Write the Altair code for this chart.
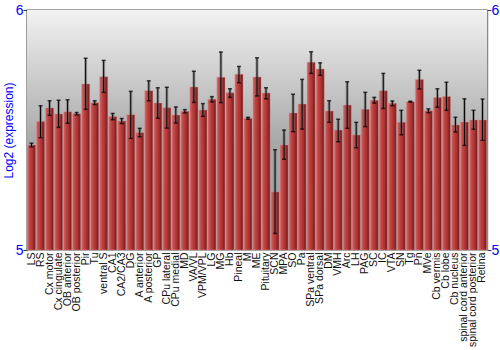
import altair as alt
import pandas as pd

regions = ["LS", "RS", "Cx motor", "Cx cingulate", "OB anterior", "OB posterior", "Pir", "Tu",
           "ventral S", "CA1", "CA2/CA3", "DG", "A anterior", "A posterior", "GP", "CPu lateral",
           "CPu medial", "MD", "VA/VL", "VPM/VPL", "LG", "MG", "Hb", "Pineal", "M", "ME",
           "Pituitary", "SCN", "MPA", "SO", "Pa", "SPa ventral", "SPa dorsal", "DM", "VMH", "Arc",
           "LH", "PAG", "SC", "IC", "VTA", "SN", "Tg", "Pn", "MVe", "Cb vermis", "Cb lobe",
           "Cb nucleus", "spinal cord anterior", "spinal cord posterior", "Retina"]
values = [5.4375, 5.535, 5.592, 5.567, 5.576, 5.568, 5.692, 5.614,
          5.722, 5.556, 5.5375, 5.564, 5.489, 5.664, 5.6125, 5.593,
          5.5625, 5.578, 5.679, 5.583, 5.628, 5.72, 5.655, 5.732, 5.549, 5.721,
          5.654, 5.242, 5.4375, 5.571, 5.608, 5.782, 5.754, 5.579, 5.5, 5.604,
          5.479, 5.586, 5.624, 5.664, 5.611, 5.532, 5.618, 5.71, 5.58, 5.635, 5.64,
          5.521, 5.533, 5.542, 5.542]
err_low = [5.43, 5.468, 5.561, 5.511, 5.528, 5.563, 5.586, 5.606,
           5.657, 5.543, 5.527, 5.465, 5.472, 5.622, 5.549, 5.508,
           5.529, 5.571, 5.615, 5.557, 5.617, 5.614, 5.636, 5.697, 5.545, 5.642,
           5.63, 5.069, 5.378, 5.493, 5.504, 5.736, 5.728, 5.532, 5.451, 5.507,
           5.426, 5.514, 5.612, 5.59, 5.601, 5.48, 5.616, 5.671, 5.572, 5.595, 5.582,
           5.492, 5.436, 5.503, 5.457]
err_high = [5.445, 5.601, 5.622, 5.624, 5.626, 5.573, 5.799, 5.622,
            5.79, 5.569, 5.548, 5.661, 5.507, 5.705, 5.676, 5.678,
            5.596, 5.585, 5.745, 5.61, 5.639, 5.825, 5.672, 5.765, 5.553, 5.801,
            5.676, 5.418, 5.5, 5.649, 5.711, 5.826, 5.78, 5.622, 5.545, 5.701,
            5.532, 5.657, 5.636, 5.736, 5.621, 5.582, 5.62, 5.749, 5.588, 5.672, 5.699,
            5.553, 5.63, 5.582, 5.629]
y_ticks = [5, 6]

df = pd.DataFrame({"region": regions, "value": values, "lo": err_low, "hi": err_high})
df["base"] = 5.0

W, H = 460, 240
blue = "#0000ff"

xenc = alt.X("region:N", sort=regions,
             scale=alt.Scale(paddingInner=0.1, paddingOuter=0.05),
             axis=alt.Axis(title=None, labelAngle=-90, labelFont="Liberation Sans",
                           labelFontSize=10.5, labelColor="#111", ticks=False,
                           domain=False, labelPadding=2, labelOverlap=False))
xplain = alt.X("region:N", sort=regions)
yscale = alt.Scale(domain=[5, 6], nice=False, zero=False)

def yaxis(orient, title):
    kw = dict(orient=orient, labelColor=blue, labelFont="Liberation Sans", labelFontSize=14,
              values=y_ticks, format="d", domainColor="#888", domainWidth=1.5,
              tickColor="#333", tickSize=4, grid=False, labelPadding=0)
    if title:
        kw.update(title=title, titleColor=blue, titleFont="Liberation Sans", titleFontSize=12,
                  titleFontWeight="normal", titlePadding=0)
    else:
        kw.update(title=None)
    return alt.Axis(**kw)

bg = alt.Chart(pd.DataFrame({"a": [0]})).mark_rect(
    color=alt.Gradient(gradient="linear", x1=0, y1=0, x2=0, y2=1,
                       stops=[alt.GradientStop(color="#f2f2f2", offset=0),
                              alt.GradientStop(color="#a8a8a8", offset=0.55),
                              alt.GradientStop(color="#a0a0a0", offset=1)])
).encode(x=alt.value(0), x2=alt.value(W), y=alt.value(0), y2=alt.value(H))

bars = alt.Chart(df).mark_bar(
    color=alt.Gradient(gradient="linear", x1=0, y1=0, x2=1, y2=0,
                       stops=[alt.GradientStop(color="#d06a6a", offset=0),
                              alt.GradientStop(color="#c04444", offset=0.3),
                              alt.GradientStop(color="#a83030", offset=0.65),
                              alt.GradientStop(color="#701818", offset=1)]),
    stroke="#e09090", strokeOpacity=0.5, strokeWidth=0.8
).encode(
    x=xenc,
    y=alt.Y("value:Q", scale=yscale, axis=yaxis("left", "Log2 (expression)")),
    y2="base:Q"
)

shadow = alt.Chart(df).mark_rule(color="#666", strokeWidth=3, opacity=0.5).encode(
    x=xplain, y=alt.Y("lo:Q", scale=yscale, axis=None), y2="hi:Q")
rule = alt.Chart(df).mark_rule(color="#000", strokeWidth=1).encode(
    x=xplain, y=alt.Y("lo:Q", scale=yscale, axis=None), y2="hi:Q")
cap_lo = alt.Chart(df).mark_tick(color="#000", size=4, thickness=1.5).encode(
    x=xplain, y=alt.Y("lo:Q", scale=yscale, axis=None))
cap_hi = alt.Chart(df).mark_tick(color="#000", size=4, thickness=1.5).encode(
    x=xplain, y=alt.Y("hi:Q", scale=yscale, axis=None))

right_axis = alt.Chart(df).mark_point(opacity=0).encode(
    x=xplain,
    y=alt.Y("value:Q", scale=yscale, axis=yaxis("right", None)))

chart = alt.layer(bg, bars, shadow, rule, cap_lo, cap_hi, right_axis).resolve_scale(
    y="shared").resolve_axis(y="independent").properties(
    width=W, height=H,
    padding={"left": 27, "top": 10, "right": 13, "bottom": 100},
    autosize=alt.AutoSizeParams(type="none"),
    background="white"
).configure_view(stroke="#888", strokeWidth=1.5)

chart.save("out.html", embed_options={"renderer": "svg", "actions": False})
